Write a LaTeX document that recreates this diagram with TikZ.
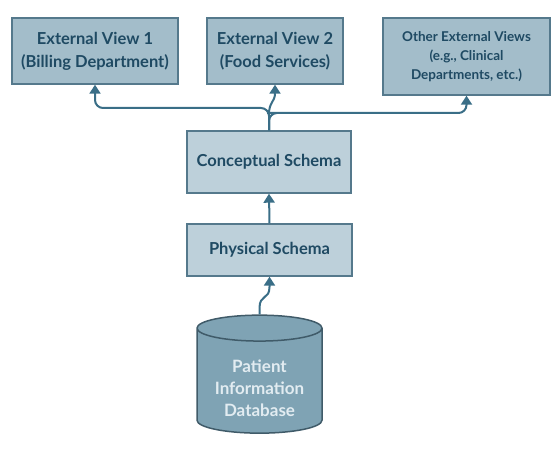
\documentclass[tikz,border=0pt]{standalone}
\usepackage{fontspec}
\setmainfont{Lato}
\usetikzlibrary{arrows.meta,shapes.geometric}
\definecolor{viewfill}{HTML}{A3BDCA}
\definecolor{schemafill}{HTML}{BDD0DA}
\definecolor{dbfill}{HTML}{7FA3B4}
\definecolor{boxline}{HTML}{55798C}
\definecolor{inkblue}{HTML}{1F4A63}
\definecolor{linkblue}{HTML}{3A6E87}
\definecolor{dbtext}{HTML}{E2ECF1}
\tikzset{
  viewbox/.style={draw=boxline, line width=1.4pt, fill=viewfill, text=inkblue, align=center, inner sep=0pt,
    font=\fontsize{16.5}{23}\selectfont\bfseries},
  schemabox/.style={viewbox, fill=schemafill},
  dbshape/.style={cylinder, shape border rotate=90, aspect=0.29, draw=boxline!75!black, line width=1.5pt,
    fill=dbfill, text=dbtext, align=center, inner sep=0pt, font=\fontsize{17}{22}\selectfont\bfseries},
  link/.style={draw=linkblue, line width=2pt, -{Triangle[width=11pt,length=9pt]}}
}
\begin{document}
\begin{tikzpicture}[x=1pt, y=-1pt]
\useasboundingbox (0,0) rectangle (556,449);
% external level
\node[viewbox, minimum width=166, minimum height=66] (ev1) at (95,51) {External View 1\\(Billing Department)};
\node[viewbox, minimum width=136, minimum height=66] (ev2) at (275,51) {External View 2\\(Food Services)};
\node[viewbox, minimum width=167, minimum height=77, font=\fontsize{13.5}{19}\selectfont\bfseries] (other) at (466.5,56.5)
  {Other External Views\\(e.g., Clinical\\Departments, etc.)};
% conceptual and physical level
\node[schemabox, minimum width=164, minimum height=62] (concept) at (269,162) {Conceptual Schema};
\node[schemabox, minimum width=165, minimum height=52] (phys) at (269.5,250) {Physical Schema};
% stored data
\node[dbshape, minimum width=125, minimum height=118] (db) at (259.5,381)
  {\raisebox{-13pt}[0pt][0pt]{\begin{tabular}{@{}c@{}}Patient\\Information\\Database\end{tabular}}};

\draw[link, rounded corners=8pt] (concept.north) |- (95,108) -- (ev1.south);
\draw[link, rounded corners=8pt] (concept.north) |- (ev2.south |- 0,113) -| (other.south);
\draw[link] (concept.north) -- (269,114) .. controls (269,102) and (275,102) .. (ev2.south);
\draw[link] (phys.north) -- (concept.south);
\draw[link] (db.north) -- (259.5,308) .. controls (259.5,294) and (269.5,300) .. (269.5,287) -- (phys.south);
\end{tikzpicture}
\end{document}
